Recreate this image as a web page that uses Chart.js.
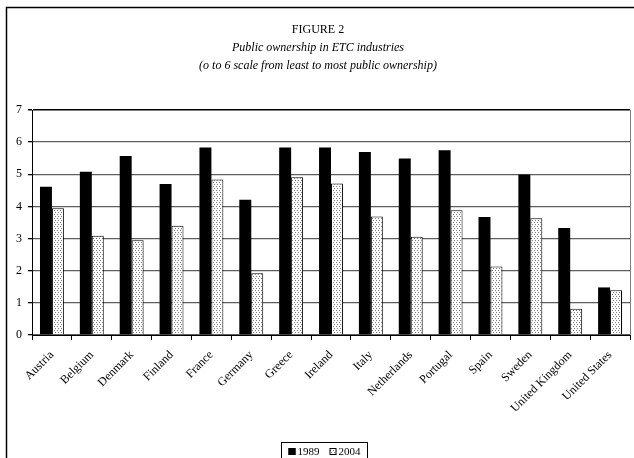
<!DOCTYPE html>
<html>
<head>
<meta charset="utf-8">
<script src="https://cdn.jsdelivr.net/npm/chart.js@4"></script>
<style>
  html, body { margin: 0; padding: 0; background: #fff; }
  canvas { display: block; }
</style>
</head>
<body>
<canvas id="chart" width="634" height="458"></canvas>
<script>
const countries = ['Austria', 'Belgium', 'Denmark', 'Finland', 'France', 'Germany', 'Greece',
  'Ireland', 'Italy', 'Netherlands', 'Portugal', 'Spain', 'Sweden', 'United Kingdom', 'United States'];
const values1989 = [4.61, 5.08, 5.57, 4.70, 5.83, 4.21, 5.83, 5.83, 5.69, 5.49, 5.75, 3.67, 4.99, 3.33, 1.48];
const values2004 = [3.94, 3.09, 2.95, 3.40, 4.84, 1.92, 4.91, 4.71, 3.69, 3.06, 3.88, 2.13, 3.63, 0.82, 1.39];
const seriesLabels = ['1989', '2004'];
const yTicks = [0, 1, 2, 3, 4, 5, 6, 7];

const SERIF = '"Liberation Serif", "DejaVu Serif", serif';

// dotted fill used for the 2004 bars
function makeDots() {
  const c = document.createElement('canvas');
  c.width = 3;
  c.height = 4;
  const g = c.getContext('2d');
  g.fillStyle = '#fff';
  g.fillRect(0, 0, 3, 4);
  g.fillStyle = '#7a7a7a';
  g.fillRect(1, 0, 1, 1);
  g.fillRect(0, 2, 1, 1);
  return g.createPattern(c, 'repeat');
}
const dots = makeDots();

const framePlugin = {
  id: 'frame',
  beforeDraw(chart) {
    const ctx = chart.ctx;
    ctx.save();
    ctx.fillStyle = '#fff';
    ctx.fillRect(0, 0, chart.width, chart.height);
    ctx.restore();
  },
  afterDraw(chart) {
    const ctx = chart.ctx;
    const area = chart.chartArea;
    ctx.save();
    // outer figure frame
    ctx.strokeStyle = '#000';
    ctx.lineWidth = 1.5;
    ctx.beginPath();
    ctx.moveTo(6.5, chart.height + 2);
    ctx.lineTo(6.5, 7.5);
    ctx.lineTo(chart.width + 2, 7.5);
    ctx.stroke();
    // right edge of plot area
    ctx.strokeStyle = '#808080';
    ctx.lineWidth = 1;
    ctx.beginPath();
    ctx.moveTo(area.right + 0.5, area.top);
    ctx.lineTo(area.right + 0.5, area.bottom);
    ctx.stroke();

    // legend in a box under the axis
    ctx.font = '11px ' + SERIF;
    ctx.textBaseline = 'middle';
    const sw = 7, gap = 2, itemGap = 10;
    const widths = chart.data.datasets.map(ds => sw + gap + ctx.measureText(ds.label).width);
    const total = widths.reduce((a, b) => a + b, 0) + itemGap * (widths.length - 1);
    const boxW = total + 14;
    const boxX = Math.round(324 - boxW / 2) + 0.5;
    const boxY = 442.5;
    ctx.strokeStyle = '#000';
    ctx.lineWidth = 1;
    ctx.strokeRect(boxX, boxY, boxW, 30);
    let x = boxX + 7;
    const cy = 451.5;
    chart.data.datasets.forEach((ds, i) => {
      ctx.fillStyle = ds.backgroundColor;
      ctx.fillRect(x, cy - sw / 2, sw, sw);
      ctx.strokeStyle = '#000';
      ctx.strokeRect(x + 0.5, cy - sw / 2 + 0.5, sw - 1, sw - 1);
      ctx.fillStyle = '#000';
      ctx.fillText(ds.label, x + sw + gap, cy + 1);
      x += widths[i] + itemGap;
    });
    ctx.restore();
  }
};

new Chart(document.getElementById('chart'), {
  type: 'bar',
  data: {
    labels: countries,
    datasets: [
      {
        label: seriesLabels[0],
        data: values1989,
        backgroundColor: '#000',
        borderColor: '#000',
        borderWidth: 0
      },
      {
        label: seriesLabels[1],
        data: values2004,
        backgroundColor: dots,
        borderColor: '#000',
        borderWidth: 1
      }
    ]
  },
  options: {
    responsive: false,
    animation: false,
    devicePixelRatio: 1,
    categoryPercentage: 0.6,
    barPercentage: 1.0,
    layout: { padding: { left: 6, right: 4, top: 7, bottom: 23 } },
    plugins: {
      legend: { display: false },
      tooltip: { enabled: false },
      title: {
        display: true,
        text: 'FIGURE 2',
        color: '#000',
        font: { family: SERIF, size: 12, weight: 'normal', lineHeight: '18px' },
        padding: { top: 14, bottom: 0 }
      },
      subtitle: {
        display: true,
        text: ['Public ownership in ETC industries', '(o to 6 scale from least to most public ownership)'],
        color: '#000',
        font: { family: SERIF, size: 12, style: 'italic', lineHeight: '18px' },
        padding: { top: 0, bottom: 35 }
      }
    },
    scales: {
      x: {
        grid: {
          drawOnChartArea: false,
          tickLength: 5,
          tickColor: '#000',
          offset: true
        },
        border: { color: '#000', width: 1 },
        ticks: {
          color: '#000',
          font: { family: SERIF, size: 12 },
          maxRotation: 45,
          minRotation: 45,
          autoSkip: false,
          padding: 8
        },
        afterFit(scale) { scale.height = 100; }
      },
      y: {
        min: 0,
        max: 7,
        afterBuildTicks(scale) { scale.ticks = yTicks.map(v => ({ value: v })); },
        grid: {
          color: ctx => ctx.tick && ctx.tick.value === 7 ? '#000' : '#5e5e5e',
          lineWidth: ctx => ctx.tick && ctx.tick.value === 7 ? 1.5 : 1.3,
          tickLength: 4,
          tickColor: '#000'
        },
        border: { color: '#000', width: 1 },
        ticks: {
          color: '#000',
          font: { family: SERIF, size: 12 },
          padding: 6
        },
        afterFit(scale) { scale.width = 26; }
      }
    }
  },
  plugins: [framePlugin]
});
</script>
</body>
</html>
